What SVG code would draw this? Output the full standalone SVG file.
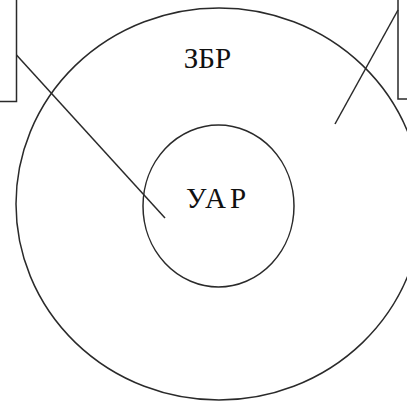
<svg xmlns="http://www.w3.org/2000/svg" width="407" height="402" viewBox="0 0 407 402">
<style>
.s{fill:none;stroke:#2a2a2a;stroke-width:1.5}
.t{font-family:"Liberation Serif","DejaVu Serif",serif;font-size:29px;fill:#111;text-anchor:middle}
</style>
<rect width="407" height="402" fill="#fff"/>
<g id="outer">
<ellipse class="s" cx="219" cy="204" rx="203" ry="196"/>
<text class="t" x="207.5" y="67.5">ЗБР</text>
</g>
<g id="inner">
<ellipse class="s" cx="218.5" cy="206" rx="75.5" ry="81"/>
<text class="t" x="218" y="207.5" letter-spacing="4">УАР</text>
</g>
<g id="box-left">
<rect class="s" x="-10" y="-10" width="26.5" height="111.5"/>
</g>
<g id="box-right">
<rect class="s" x="398" y="-10" width="20" height="109"/>
</g>
<g id="connectors">
<line class="s" x1="16.5" y1="55" x2="165" y2="218"/>
<line class="s" x1="398" y1="10" x2="335" y2="124"/>
</g>
</svg>
